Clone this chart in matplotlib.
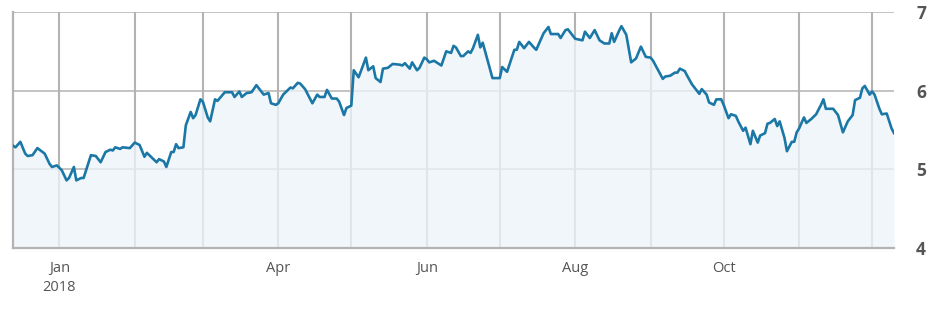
import matplotlib
matplotlib.use("Agg")
import matplotlib.pyplot as plt
import matplotlib.dates as mdates
import numpy as np
import pandas as pd

plt.rcParams["font.family"] = ["Open Sans", "DejaVu Sans"]

# days counted from 2018-01-01
day_offsets = [
    -19, -18, -16, -14, -13, -11, -9, -6, -4, -3, -1,
    1, 3, 4, 6, 7, 9, 10, 13, 15, 17, 19, 21, 22, 23, 25, 26, 29, 31,
    33, 35, 36, 40, 41, 43, 44, 46, 47, 48, 49, 51, 52, 54, 55, 56, 58,
    59, 61, 62, 64, 65, 68, 71, 72, 74, 75, 77, 79, 81, 83, 84, 86, 87, 89,
    90, 92, 95, 96, 98, 99, 101, 104, 106, 107, 109, 110, 112, 114, 115, 117, 118, 120,
    121, 123, 126, 127, 129, 130, 132, 133, 135, 137, 140, 141, 142, 144, 145, 147, 148, 150, 151,
    152, 154, 157, 159, 161, 162, 163, 165, 166, 168, 169, 170, 172, 173, 174, 178, 181,
    182, 184, 187, 188, 189, 191, 193, 195, 196, 199, 201, 202, 205, 206, 208, 209, 212,
    215, 216, 218, 220, 222, 224, 226, 227, 228, 230, 231, 233, 235, 237, 239, 241, 243,
    244, 248, 249, 251, 253, 254, 255, 257, 258, 260, 263, 264, 266, 267, 269, 270, 272,
    273, 275, 276, 278, 279, 281, 282, 284, 285, 287, 288, 290, 291, 292, 294, 295, 296,
    298, 299, 301, 302, 303,
    304, 306, 307, 309, 311, 313, 314, 315, 318, 320, 322, 324, 326, 327, 329, 330, 331, 333, 334,
    335, 337, 338, 340, 342, 343,
]

prices = [
    5.30, 5.28, 5.35, 5.20, 5.17, 5.18, 5.27, 5.20, 5.07, 5.03, 5.05,
    4.99, 4.86, 4.89, 5.03, 4.86, 4.89, 4.89, 5.18, 5.17, 5.09, 5.22, 5.25, 5.24, 5.28, 5.26, 5.28, 5.27, 5.34,
    5.31, 5.16, 5.21, 5.09, 5.13, 5.10, 5.03, 5.22, 5.22, 5.32, 5.27, 5.28, 5.56, 5.73, 5.65, 5.69, 5.89,
    5.86, 5.66, 5.61, 5.89, 5.87, 5.98, 5.98, 5.92, 5.99, 5.92, 5.97, 5.98, 6.07, 5.99, 5.95, 5.97, 5.84, 5.82,
    5.84, 5.95, 6.04, 6.03, 6.10, 6.09, 6.02, 5.84, 5.95, 5.92, 5.92, 6.01, 5.90, 5.90, 5.86, 5.69, 5.78, 5.81,
    6.26, 6.17, 6.42, 6.26, 6.31, 6.16, 6.11, 6.28, 6.29, 6.34, 6.33, 6.32, 6.35, 6.28, 6.36, 6.26, 6.29, 6.42, 6.40,
    6.36, 6.38, 6.32, 6.50, 6.48, 6.57, 6.55, 6.44, 6.44, 6.50, 6.48, 6.54, 6.71, 6.55, 6.61, 6.16, 6.16,
    6.30, 6.24, 6.52, 6.52, 6.62, 6.54, 6.62, 6.55, 6.52, 6.73, 6.81, 6.72, 6.72, 6.67, 6.77, 6.78, 6.66,
    6.64, 6.75, 6.67, 6.77, 6.64, 6.60, 6.60, 6.73, 6.62, 6.76, 6.82, 6.71, 6.36, 6.41, 6.56, 6.43, 6.42,
    6.38, 6.15, 6.18, 6.19, 6.23, 6.23, 6.28, 6.25, 6.19, 6.08, 5.96, 6.02, 5.95, 5.85, 5.82, 5.89, 5.89,
    5.82, 5.65, 5.70, 5.68, 5.61, 5.49, 5.53, 5.32, 5.49, 5.34, 5.43, 5.46, 5.58, 5.59, 5.64, 5.55, 5.61,
    5.40, 5.23, 5.35, 5.35, 5.47,
    5.52, 5.66, 5.59, 5.64, 5.70, 5.82, 5.89, 5.77, 5.77, 5.69, 5.47, 5.61, 5.69, 5.88, 5.91, 6.03, 6.06, 5.95, 5.99,
    5.95, 5.77, 5.70, 5.71, 5.52, 5.46,
]

month_starts = pd.date_range("2018-01-01", "2018-12-01", freq="MS")
labelled_months = ["2018-01-01", "2018-04-01", "2018-06-01", "2018-08-01", "2018-10-01"]
month_labels = ["Jan\n2018", "Apr", "Jun", "Aug", "Oct"]
y_ticks = [4, 5, 6, 7]

dates = pd.Timestamp("2018-01-01") + pd.to_timedelta(day_offsets, unit="D")

fig = plt.figure(figsize=(9.38, 3.12), dpi=100)
ax = fig.add_axes([0.0139, 0.2051, 0.9392, 0.7564])

grid_col = "#b3b3b3"
ax.fill_between(dates, prices, 4, color="#eef4fa", alpha=0.78, zorder=2, linewidth=0)
ax.plot(dates, prices, color="#1b78a6", linewidth=1.9, zorder=3)

ax.set_xlim(dates[0], dates[-1])
ax.set_ylim(4, 7)

ax.xaxis.set_major_locator(matplotlib.ticker.FixedLocator(mdates.date2num(pd.to_datetime(labelled_months))))
ax.xaxis.set_major_formatter(matplotlib.ticker.FixedFormatter(month_labels))
ax.xaxis.set_minor_locator(matplotlib.ticker.FixedLocator(mdates.date2num(month_starts)))
ax.grid(axis="x", which="both", color=grid_col, linewidth=1.5, zorder=1)
ax.grid(axis="y", which="major", color=grid_col, linewidth=1.1, zorder=1)
ax.set_axisbelow(True)

ax.set_yticks(y_ticks)
ax.yaxis.tick_right()
ax.tick_params(axis="y", length=0, pad=16, labelsize=12.5, labelcolor="#555555")
for lab in ax.get_yticklabels():
    lab.set_fontweight("bold")
ax.tick_params(axis="x", which="both", length=0, pad=9, labelsize=10.5, labelcolor="#555555")
for lab in ax.get_xticklabels():
    lab.set_linespacing(1.45)

for side in ["right", "top"]:
    ax.spines[side].set_visible(False)
for side in ["left", "bottom"]:
    ax.spines[side].set_color(grid_col)
    ax.spines[side].set_linewidth(1.6)

fig.savefig("out.png", dpi=100)
